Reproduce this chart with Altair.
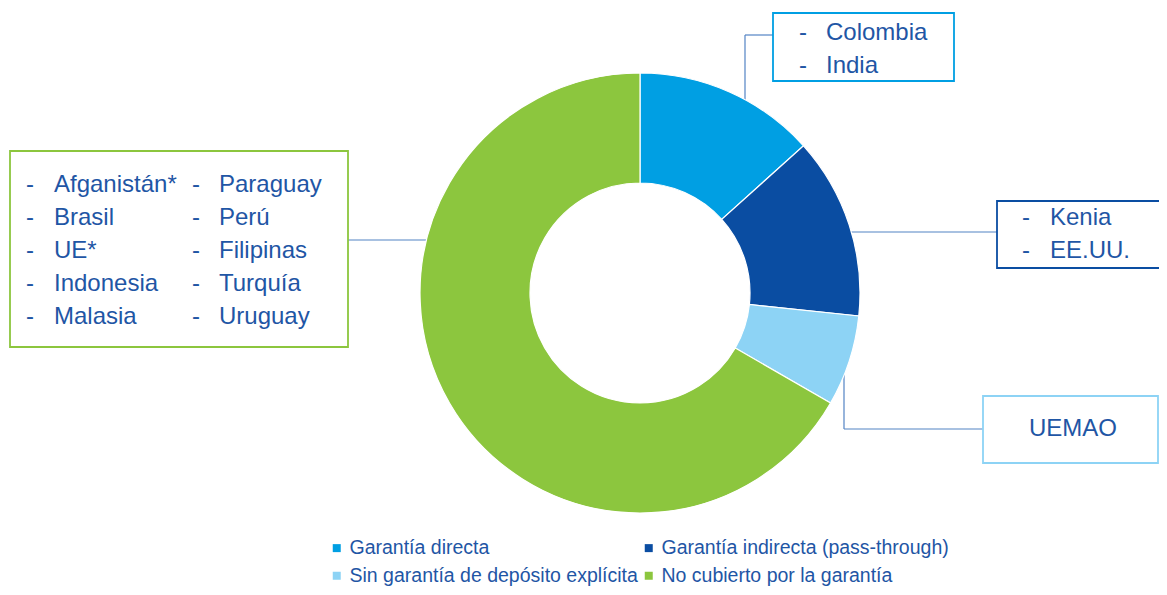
import altair as alt
import pandas as pd

# ---------------- data ----------------
categorias = [
    "Garantía directa",
    "Garantía indirecta (pass-through)",
    "Sin garantía de depósito explícita",
    "No cubierto por la garantía",
]
valores = [2, 2, 1, 10]
colores = ["#009FE3", "#0A4DA2", "#8DD3F5", "#8CC63E"]

paises_directa = ["Colombia", "India"]
paises_indirecta = ["Kenia", "EE.UU."]
paises_sin = ["UEMAO"]
paises_no = ["Afganistán*", "Brasil", "UE*", "Indonesia", "Malasia",
             "Paraguay", "Perú", "Filipinas", "Turquía", "Uruguay"]

# ---------------- layout / style ----------------
W, H = 1151, 579
CX, CY = 632, 285
R_OUT, R_IN = 220, 110
TEXT_COLOR = "#1F56A5"
LINE_COLOR = "#5283C4"
FONT = "Liberation Sans"
FS = 24

cajas = [
    dict(paises=paises_directa, x=765, x2=946, y=5, y2=73, stroke=colores[0],
         dash_x=[791], name_x=[818], base=32, step=33, filas=2, dash=True),
    dict(paises=paises_indirecta, x=989, x2=1170, y=193, y2=260, stroke=colores[1],
         dash_x=[1014], name_x=[1042], base=217, step=33, filas=2, dash=True),
    dict(paises=paises_sin, x=975, x2=1150, y=388, y2=455, stroke=colores[2],
         dash_x=[], name_x=[1065], base=428, step=33, filas=1, dash=False),
    dict(paises=paises_no, x=2, x2=340, y=143, y2=339, stroke=colores[3],
         dash_x=[18, 184], name_x=[46, 211], base=184, step=33, filas=5, dash=True),
]

conectores = [
    (737, 95, 737, 27), (737, 27, 765, 27),
    (840, 224, 989, 224),
    (836, 362, 836, 421), (836, 421, 975, 421),
    (340, 232, 424, 232),
]

# legend is filled column by column: this order gives the rows of the reference
orden_leyenda = [0, 2, 1, 3]

# ---------------- tables ----------------
df_arc = pd.DataFrame({"categoria": categorias, "valor": valores,
                       "orden": list(range(len(categorias)))})

rect_rows = [dict(x=c["x"], x2=c["x2"], y=c["y"], y2=c["y2"], stroke=c["stroke"]) for c in cajas]
df_rect = pd.DataFrame(rect_rows)

text_rows = []
for c in cajas:
    for i, p in enumerate(c["paises"]):
        col, fila = divmod(i, c["filas"])
        y = c["base"] + fila * c["step"]
        if c["dash"]:
            text_rows.append(dict(x=c["dash_x"][col], y=y, t="-", align="left"))
            text_rows.append(dict(x=c["name_x"][col], y=y, t=p, align="left"))
        else:
            text_rows.append(dict(x=c["name_x"][col], y=y, t=p, align="center"))
df_text = pd.DataFrame(text_rows)

df_line = pd.DataFrame(conectores, columns=["x", "y", "x2", "y2"])

# ---------------- marks ----------------
lines = alt.Chart(df_line).mark_rule(color=LINE_COLOR, strokeWidth=1.2).encode(
    x=alt.X("x:Q", scale=None), y=alt.Y("y:Q", scale=None),
    x2="x2:Q", y2="y2:Q",
)

donut = alt.Chart(df_arc).mark_arc(
    innerRadius=R_IN, outerRadius=R_OUT, stroke="white", strokeWidth=1.2
).encode(
    theta=alt.Theta("valor:Q", stack=True),
    order=alt.Order("orden:Q"),
    color=alt.Color(
        "categoria:N",
        scale=alt.Scale(domain=[categorias[i] for i in orden_leyenda],
                        range=[colores[i] for i in orden_leyenda]),
        legend=alt.Legend(
            title=None, orient="none", legendX=319, legendY=530, columns=2,
            padding=0, symbolType="square", symbolSize=64, symbolStrokeWidth=0,
            labelFont=FONT, labelFontSize=19.5, labelColor=TEXT_COLOR,
            labelLimit=600, rowPadding=7, columnPadding=1, labelOffset=3,
        ),
    ),
    x=alt.value(CX), y=alt.value(CY),
)

rects = alt.Chart(df_rect).mark_rect(fill="white", strokeWidth=1.8).encode(
    x=alt.X("x:Q", scale=None), x2="x2:Q",
    y=alt.Y("y:Q", scale=None), y2="y2:Q",
    stroke=alt.Stroke("stroke:N", scale=None),
)

texts_left = alt.Chart(df_text[df_text["align"] == "left"]).mark_text(
    font=FONT, fontSize=FS, color=TEXT_COLOR, align="left", baseline="alphabetic"
).encode(x=alt.X("x:Q", scale=None), y=alt.Y("y:Q", scale=None), text="t:N")

texts_center = alt.Chart(df_text[df_text["align"] == "center"]).mark_text(
    font=FONT, fontSize=FS, color=TEXT_COLOR, align="center", baseline="alphabetic"
).encode(x=alt.X("x:Q", scale=None), y=alt.Y("y:Q", scale=None), text="t:N")

chart = alt.layer(lines, donut, rects, texts_left, texts_center).properties(
    width=W, height=H, padding=0, autosize=alt.AutoSizeParams(type="none"),
    background="white",
).configure_view(stroke=None)

chart.save("out.html", embed_options={"renderer": "svg", "actions": False})
